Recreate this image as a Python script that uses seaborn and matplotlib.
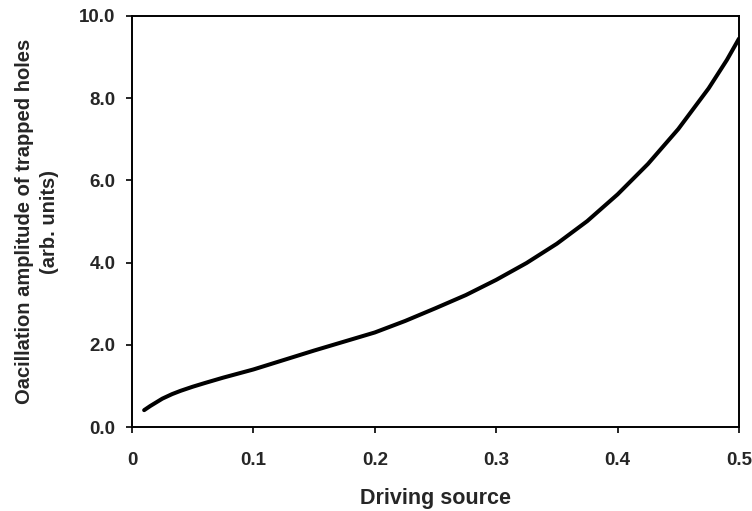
import numpy as np
import pandas as pd
import seaborn as sns
import matplotlib
matplotlib.use("Agg")
import matplotlib.pyplot as plt

driving_source = [0.01, 0.015, 0.02, 0.025, 0.033, 0.04, 0.05, 0.06, 0.075, 0.1, 0.125, 0.15,
                  0.175, 0.2, 0.225, 0.25, 0.275, 0.3, 0.325, 0.35, 0.375, 0.4, 0.425, 0.45,
                  0.475, 0.49, 0.5]
amplitude = [0.41, 0.51, 0.60, 0.69, 0.80, 0.88, 0.98, 1.07, 1.20, 1.40, 1.63, 1.86,
             2.08, 2.30, 2.58, 2.89, 3.21, 3.58, 3.99, 4.46, 5.01, 5.66, 6.40, 7.25,
             8.24, 8.93, 9.45]
x_ticks = [0, 0.1, 0.2, 0.3, 0.4, 0.5]
x_tick_labels = ["0", "0.1", "0.2", "0.3", "0.4", "0.5"]
y_ticks = [0, 2, 4, 6, 8, 10]
y_tick_labels = ["0.0", "2.0", "4.0", "6.0", "8.0", "10.0"]

sns.set_theme(style="white")
plt.rcParams["font.family"] = ["Liberation Sans", "DejaVu Sans"]

df = pd.DataFrame({"x": driving_source, "y": amplitude})

fig = plt.figure(figsize=(7.52, 5.11), dpi=100)
ax = fig.add_axes([132 / 752, 1 - 427 / 511, (739 - 132) / 752, (427 - 16) / 511])

sns.lineplot(data=df, x="x", y="y", ax=ax, color="black", linewidth=2.9, estimator=None)
ax.lines[0].set_solid_joinstyle("round")
ax.lines[0].set_solid_capstyle("round")

ax.set_xlim(0, 0.5)
ax.set_ylim(0, 10)
ax.set_xticks(x_ticks)
ax.set_xticklabels(x_tick_labels, fontsize=13.5, fontweight="bold")
ax.set_yticks(y_ticks)
ax.set_yticklabels(y_tick_labels, fontsize=13.5, fontweight="bold")
ax.tick_params(axis="x", direction="out", length=4, width=1.2, color="black", pad=14, bottom=True)
ax.tick_params(axis="y", direction="out", length=4, width=1.2, color="black", pad=8, left=True)

for s in ax.spines.values():
    s.set_visible(True)
    s.set_color("black")
    s.set_linewidth(1.4)

ax.set_xlabel("Driving source", fontsize=15.5, fontweight="bold", labelpad=14)
ax.set_ylabel("Oacillation amplitude of trapped holes\n(arb. units)", fontsize=14.5,
              fontweight="bold", labelpad=14.5, linespacing=1.4)
ax.grid(False)

fig.savefig("out.png", dpi=100)
